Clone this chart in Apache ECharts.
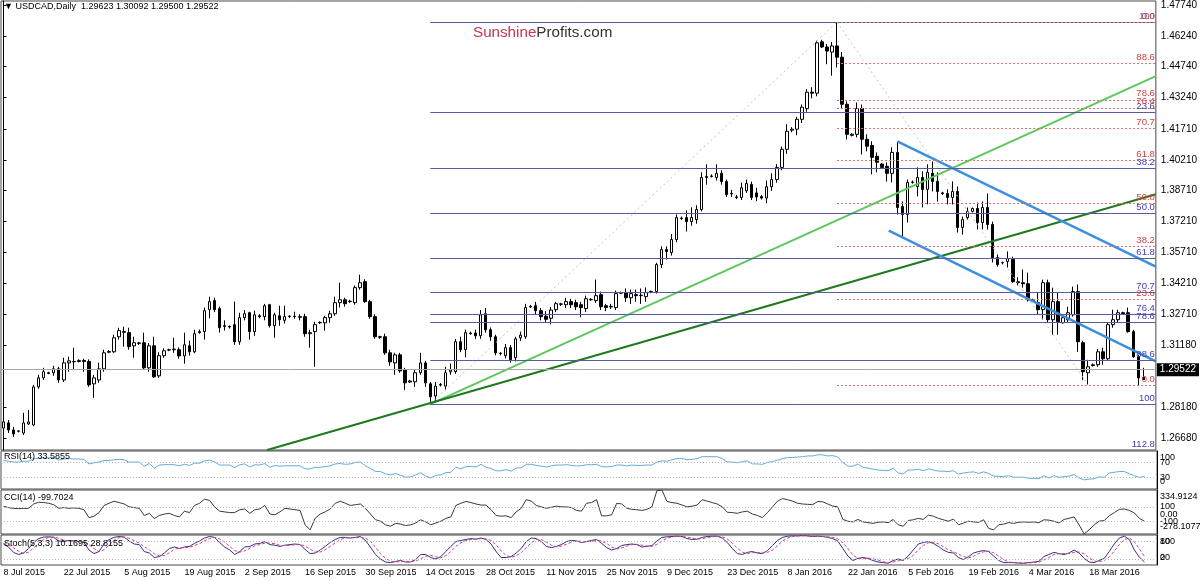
<!DOCTYPE html>
<html><head><meta charset="utf-8">
<script src="https://cdn.jsdelivr.net/npm/echarts@6/dist/echarts.min.js"></script>
<style>html,body{margin:0;padding:0;background:#fff}#c{width:1200px;height:581px}</style>
</head><body><div id="c"></div>
<script>
// ---------- DATA ----------
const firstDay = [2015, 6, 8], lastDay = [2016, 2, 31];
const closedDays = ['2015-12-25', '2016-01-01'];
const MONTHS = ['Jan','Feb','Mar','Apr','May','Jun','Jul','Aug','Sep','Oct','Nov','Dec'];
const titleText = '\u25BC USDCAD,Daily  1.29623 1.30092 1.29500 1.29522';
const priceTicks = [1.4774,1.4624,1.4474,1.4324,1.4171,1.4021,1.3871,1.3721,1.3571,1.3421,1.3271,1.3118,1.2818,1.2668];
const priceMin = 1.26092, priceMax = 1.47935;
// rows: [open, high, low, close]
const ohlc = [
[1.2716,1.2765,1.2692,1.2746],[1.2741,1.2755,1.2692,1.2707],[1.2707,1.2722,1.2673,1.2687],[1.2700,1.2705,1.2695,1.2702],[1.2692,1.2790,1.2682,1.2741],[1.2736,1.2804,1.2731,1.2746],[1.2731,1.2926,1.2725,1.2916],[1.2916,1.2975,1.2907,1.2960],[1.2960,1.3009,1.2950,1.2990],[1.2985,1.2990,1.2978,1.2982],[1.2985,1.3019,1.2970,1.3004],[1.3004,1.3014,1.2936,1.2950],
[1.2950,1.3058,1.2940,1.3033],[1.3033,1.3063,1.2990,1.3043],[1.3040,1.3107,1.3000,1.3038],[1.3040,1.3050,1.3035,1.3045],[1.3045,1.3053,1.2990,1.3040],[1.3040,1.3050,1.2916,1.2926],[1.2931,1.2975,1.2863,1.2960],[1.2950,1.3034,1.2936,1.3004],[1.3004,1.3097,1.2990,1.3082],[1.3085,1.3095,1.3080,1.3088],[1.3087,1.3170,1.3082,1.3155],[1.3160,1.3204,1.3146,1.3190],
[1.3185,1.3209,1.3112,1.3182],[1.3180,1.3204,1.3097,1.3112],[1.3116,1.3160,1.3058,1.3131],[1.3130,1.3135,1.3120,1.3128],[1.3131,1.3180,1.2999,1.3009],[1.3009,1.3130,1.2990,1.3116],[1.3116,1.3160,1.2960,1.2965],[1.2970,1.3085,1.2960,1.3068],[1.3068,1.3104,1.3058,1.3092],[1.3095,1.3102,1.3090,1.3097],[1.3097,1.3155,1.3082,1.3100],[1.3097,1.3109,1.3053,1.3067],
[1.3067,1.3180,1.3029,1.3121],[1.3116,1.3141,1.3068,1.3087],[1.3087,1.3194,1.3080,1.3175],[1.3180,1.3195,1.3175,1.3185],[1.3185,1.3302,1.3146,1.3287],[1.3292,1.3355,1.3250,1.3331],[1.3336,1.3350,1.3280,1.3292],[1.3297,1.3307,1.3180,1.3204],[1.3214,1.3240,1.3190,1.3210],[1.3210,1.3215,1.3200,1.3208],[1.3219,1.3331,1.3121,1.3136],[1.3136,1.3277,1.3121,1.3253],
[1.3253,1.3290,1.3240,1.3272],[1.3277,1.3282,1.3146,1.3185],[1.3185,1.3287,1.3165,1.3267],[1.3262,1.3270,1.3250,1.3258],[1.3258,1.3320,1.3240,1.3311],[1.3316,1.3320,1.3205,1.3214],[1.3214,1.3277,1.3155,1.3267],[1.3262,1.3311,1.3214,1.3243],[1.3240,1.3311,1.3224,1.3258],[1.3258,1.3265,1.3252,1.3260],[1.3260,1.3282,1.3248,1.3258],[1.3258,1.3270,1.3240,1.3255],
[1.3258,1.3272,1.3160,1.3175],[1.3175,1.3194,1.3107,1.3180],[1.3185,1.3233,1.3014,1.3219],[1.3228,1.3235,1.3222,1.3230],[1.3228,1.3262,1.3190,1.3253],[1.3253,1.3287,1.3228,1.3272],[1.3272,1.3355,1.3262,1.3326],[1.3326,1.3423,1.3302,1.3340],[1.3340,1.3350,1.3306,1.3321],[1.3331,1.3340,1.3325,1.3333],[1.3326,1.3409,1.3316,1.3399],[1.3399,1.3462,1.3389,1.3423],
[1.3428,1.3440,1.3326,1.3331],[1.3331,1.3340,1.3248,1.3258],[1.3258,1.3270,1.3150,1.3160],[1.3160,1.3165,1.3150,1.3158],[1.3160,1.3175,1.3072,1.3082],[1.3082,1.3097,1.3019,1.3038],[1.3033,1.3082,1.2975,1.3072],[1.3072,1.3082,1.2985,1.2994],[1.2999,1.3009,1.2902,1.2936],[1.2940,1.2950,1.2935,1.2945],[1.2941,1.2999,1.2916,1.2985],[1.2985,1.3082,1.2975,1.3033],
[1.3033,1.3043,1.2916,1.2936],[1.2931,1.2940,1.2832,1.2868],[1.2872,1.2940,1.2840,1.2920],[1.2925,1.2935,1.2918,1.2928],[1.2920,1.3014,1.2900,1.2985],[1.2990,1.3030,1.2975,1.2999],[1.2990,1.3150,1.2980,1.3136],[1.3136,1.3160,1.3085,1.3097],[1.3097,1.3195,1.3060,1.3180],[1.3175,1.3185,1.3170,1.3178],[1.3178,1.3195,1.3150,1.3165],[1.3165,1.3290,1.3150,1.3267],
[1.3272,1.3300,1.3180,1.3194],[1.3194,1.3205,1.3140,1.3160],[1.3160,1.3170,1.3070,1.3082],[1.3080,1.3085,1.3070,1.3078],[1.3068,1.3125,1.3055,1.3107],[1.3107,1.3120,1.3035,1.3048],[1.3058,1.3160,1.3040,1.3150],[1.3155,1.3185,1.3140,1.3168],[1.3160,1.3320,1.3150,1.3302],[1.3305,1.3315,1.3300,1.3308],[1.3311,1.3330,1.3270,1.3287],[1.3287,1.3300,1.3240,1.3258],
[1.3260,1.3285,1.3230,1.3245],[1.3250,1.3305,1.3220,1.3290],[1.3292,1.3330,1.3280,1.3321],[1.3318,1.3325,1.3310,1.3320],[1.3316,1.3350,1.3300,1.3331],[1.3331,1.3345,1.3300,1.3316],[1.3326,1.3340,1.3290,1.3306],[1.3316,1.3330,1.3255,1.3302],[1.3297,1.3360,1.3280,1.3345],[1.3340,1.3348,1.3335,1.3342],[1.3336,1.3438,1.3325,1.3360],[1.3365,1.3380,1.3290,1.3306],
[1.3311,1.3320,1.3285,1.3302],[1.3305,1.3320,1.3295,1.3308],[1.3302,1.3385,1.3290,1.3370],[1.3372,1.3380,1.3368,1.3375],[1.3375,1.3395,1.3330,1.3350],[1.3350,1.3390,1.3320,1.3370],[1.3365,1.3390,1.3330,1.3360],[1.3360,1.3395,1.3320,1.3362],[1.3355,1.3400,1.3330,1.3375],[1.3378,1.3385,1.3372,1.3380],[1.3380,1.3520,1.3370,1.3511],[1.3511,1.3600,1.3495,1.3584],
[1.3584,1.3600,1.3536,1.3575],[1.3570,1.3660,1.3555,1.3633],[1.3633,1.3755,1.3620,1.3740],[1.3735,1.3745,1.3728,1.3738],[1.3740,1.3775,1.3672,1.3720],[1.3720,1.3790,1.3700,1.3740],[1.3730,1.3800,1.3710,1.3779],[1.3779,1.3960,1.3770,1.3935],[1.3935,1.3999,1.3900,1.3940],[1.3940,1.3950,1.3935,1.3942],[1.3935,1.3999,1.3920,1.3955],[1.3955,1.3970,1.3900,1.3915],
[1.3915,1.3925,1.3840,1.3852],[1.3855,1.3875,1.3840,1.3858],[1.3840,1.3850,1.3830,1.3838],[1.3838,1.3910,1.3825,1.3885],[1.3870,1.3925,1.3860,1.3905],[1.3901,1.3915,1.3825,1.3838],[1.3860,1.3885,1.3820,1.3840],[1.3842,1.3850,1.3828,1.3835],[1.3835,1.3920,1.3810,1.3890],[1.3890,1.3955,1.3870,1.3925],[1.3925,1.4000,1.3910,1.3984],[1.3984,1.4085,1.3970,1.4072],
[1.4072,1.4194,1.4050,1.4160],[1.4165,1.4180,1.4155,1.4170],[1.4170,1.4230,1.4140,1.4218],[1.4218,1.4290,1.4200,1.4277],[1.4270,1.4365,1.4255,1.4350],[1.4350,1.4374,1.4320,1.4345],[1.4345,1.4600,1.4330,1.4590],[1.4595,1.4605,1.4565,1.4570],[1.4570,1.4584,1.4486,1.4550],[1.4545,1.4594,1.4430,1.4575],[1.4575,1.4691,1.4470,1.4520],[1.4520,1.4545,1.4270,1.4291],
[1.4291,1.4305,1.4120,1.4145],[1.4140,1.4150,1.4135,1.4145],[1.4145,1.4300,1.4130,1.4270],[1.4270,1.4290,1.4047,1.4121],[1.4121,1.4145,1.4062,1.4087],[1.4091,1.4111,1.3950,1.4033],[1.4038,1.4057,1.3960,1.4009],[1.4000,1.4005,1.3980,1.3984],[1.3989,1.4008,1.3915,1.3955],[1.3955,1.4082,1.3911,1.4057],[1.4057,1.4111,1.3755,1.3789],[1.3794,1.3818,1.3648,1.3755],
[1.3755,1.3925,1.3716,1.3911],[1.3911,1.3920,1.3905,1.3913],[1.3891,1.3984,1.3843,1.3935],[1.3935,1.3965,1.3789,1.3877],[1.3877,1.3999,1.3804,1.3960],[1.3955,1.4013,1.3867,1.3916],[1.3916,1.3960,1.3818,1.3867],[1.3860,1.3865,1.3850,1.3857],[1.3857,1.3877,1.3804,1.3838],[1.3838,1.3916,1.3804,1.3867],[1.3867,1.3891,1.3667,1.3692],[1.3692,1.3745,1.3657,1.3730],
[1.3740,1.3789,1.3730,1.3770],[1.3770,1.3789,1.3765,1.3784],[1.3784,1.3813,1.3682,1.3716],[1.3716,1.3818,1.3682,1.3789],[1.3789,1.3857,1.3682,1.3706],[1.3706,1.3720,1.3521,1.3545],[1.3545,1.3560,1.3501,1.3511],[1.3520,1.3528,1.3512,1.3521],[1.3526,1.3575,1.3497,1.3540],[1.3536,1.3550,1.3423,1.3428],[1.3428,1.3450,1.3410,1.3423],[1.3423,1.3487,1.3399,1.3418],
[1.3418,1.3472,1.3331,1.3340],[1.3336,1.3345,1.3330,1.3340],[1.3326,1.3375,1.3267,1.3292],[1.3292,1.3438,1.3243,1.3423],[1.3423,1.3438,1.3228,1.3243],[1.3243,1.3399,1.3170,1.3331],[1.3331,1.3375,1.3170,1.3233],[1.3228,1.3258,1.3224,1.3253],[1.3243,1.3306,1.3228,1.3277],[1.3267,1.3404,1.3258,1.3380],[1.3380,1.3414,1.3087,1.3136],[1.3131,1.3141,1.2950,1.2990],
[1.2985,1.3048,1.2926,1.3014],[1.3020,1.3030,1.3015,1.3024],[1.3024,1.3101,1.3014,1.3087],[1.3087,1.3107,1.3024,1.3053],[1.3053,1.3228,1.3043,1.3219],[1.3219,1.3292,1.3204,1.3243],[1.3243,1.3292,1.3228,1.3277],[1.3277,1.3282,1.3268,1.3272],[1.3277,1.3302,1.3180,1.3185],[1.3185,1.3194,1.3058,1.3063],[1.3063,1.3072,1.2920,1.2960],[1.29623,1.30092,1.29500,1.29522]
];
const rsi = [
75,73,71,71,73,73,80,81,82,82,83,76, 79,80,79,79,78,66,69,71,75,75,77,78,
77,70,71,71,60,67,55,63,64,64,64,61, 65,62,68,68,74,76,71,63,63,63,56,64,
66,58,64,63,67,57,62,60,61,61,61,61, 53,53,57,57,59,61,66,67,65,66,70,71,
61,54,46,46,40,37,41,36,31,32,37,43, 34,29,36,37,43,44,57,53,59,59,58,65,
57,54,48,48,51,47,55,56,65,65,62,60, 58,61,63,63,64,62,61,61,64,64,65,59,
58,59,63,63,61,63,62,62,63,63,71,74, 73,77,80,80,77,78,80,85,85,85,85,80,
71,71,69,72,74,66,66,65,70,72,76,80, 83,83,84,85,87,87,90,90,87,88,84,70,
60,60,66,57,55,52,50,49,48,55,42,40, 50,50,52,48,53,50,47,47,46,48,39,42,
44,45,41,45,41,34,33,33,35,31,31,31, 28,28,27,35,29,35,31,32,34,38,29,24,
26,27,32,31,42,44,46,46,40,35,30,33.5855];
const cci = [
107,90,78,75,78,80,140,164,160,150,130,80, 90,80,85,80,60,-50,-30,20,120,150,178,160,
140,100,90,80,-20,10,-64,-20,0,10,-20,-40, 40,20,120,150,207,190,100,40,30,20,21,60,
70,10,60,70,120,0,-10,30,80,70,60,50, -150,-221,-60,0,30,70,150,178,150,120,130,140,
80,0,-78,-100,-150,-170,-130,-140,-160,-150,-125,-80, -110,-150,-125,-100,-60,-40,120,150,175,160,140,125,
125,60,-20,-30,-25,-50,30,80,200,180,120,100, 80,95,110,100,100,90,50,40,150,160,200,-25,
-25,-10,150,140,80,65,60,50,65,100,325,334.9, 175,160,150,125,100,110,125,200,180,160,140,100,
25,20,10,30,40,0,-20,-50,20,100,180,215, 200,180,150,140,135,130,175,170,140,110,100,-75,
-100,-110,-75,-110,-120,-130,-115,-110,-120,-75,-150,-170, -90,-80,-60,-75,-15,-30,-60,-80,-100,-70,-150,-125,
-100,-110,-115,-80,-200,-220,-150,-140,-120,-130,-115,-110, -115,-110,-120,-80,-85,-100,-125,-75,-60,-40,-150,-278.1,
-220,-150,-100,-90,-25,20,65,70,50,15,-60,-99.7024];
const stochK = [
70,60,42,35,40,55,75,88,93,94,92,80, 78,82,80,78,76,50,38,45,70,85,92,95,
93,80,70,68,45,40,25,28,40,55,60,55, 60,62,72,80,90,95,92,75,60,50,35,45,
60,62,70,72,78,68,66,62,66,68,70,68, 52,38,40,50,62,75,85,92,92,90,92,95,
82,60,35,20,10,8,12,15,10,10,18,35, 35,25,20,28,45,62,78,82,85,88,86,90,
85,70,45,25,25,28,40,55,78,90,88,78, 62,58,62,68,78,82,80,75,78,82,85,72,
58,50,55,65,68,70,68,60,62,65,80,92, 94,95,96,95,88,85,86,92,95,96,96,90,
75,55,38,35,42,45,40,38,48,65,82,92, 96,97,97,98,97,95,96,95,92,88,80,55,
30,15,22,25,22,15,10,8,6,15,20,15, 30,50,70,75,78,72,62,50,42,40,25,18,
28,40,45,48,45,30,15,8,8,8,6,6, 8,10,12,28,35,42,38,35,40,50,40,22,
10,8,15,22,45,70,90,96,85,50,26,10.1695];
const stochD = [
72,68,57,46,39,43,57,73,85,92,93,89, 83,80,80,80,78,68,55,44,51,67,82,91,
93,89,81,73,61,51,37,31,31,41,52,57, 58,59,65,71,81,88,92,87,76,62,48,43,
47,56,64,68,73,73,71,65,65,65,68,69, 63,53,43,43,51,62,74,84,90,91,91,92,
90,79,59,38,22,13,10,12,12,12,13,21, 29,32,27,24,31,45,62,74,82,85,86,88,
87,82,67,47,32,26,31,41,58,74,85,85, 76,66,61,63,69,76,80,79,78,78,82,80,
72,60,54,57,63,68,69,66,63,62,69,79, 89,94,95,95,93,89,86,88,91,94,96,94,
87,73,56,43,38,41,42,41,42,50,65,80, 90,95,97,97,97,97,96,95,94,92,87,74,
55,33,22,21,23,21,16,11,8,10,14,17, 22,32,50,65,74,75,71,61,51,44,36,28,
24,29,38,44,46,41,30,18,10,8,7,7, 7,8,10,17,25,35,38,38,38,42,43,37,
24,13,11,15,27,46,68,85,90,77,54,28.8155];
// Fibonacci levels: [label, price]
const fibBlueStart = 85;
const fibBlue = [['0.0',1.4691],['23.6',1.4252],['38.2',1.3981],['50.0',1.3762],['61.8',1.3542],['70.7',1.3377],['76.4',1.3271],['78.6',1.3230],['88.6',1.3044],['100',1.2832]];
const fibBlueBelow = ['112.8',1.2594]; // level under the visible range: only its label shows
const fibRedStart = 166;
const fibRed = [['100',1.4691],['88.6',1.4490],['78.6',1.4313],['76.4',1.4274],['70.7',1.4174],['61.8',1.4017],['50.0',1.3809],['38.2',1.3600],['23.6',1.3343],['0.0',1.2926]];
// trend lines: [[barIndex, price], [barIndex, price]]
const lightGreenLine = [[85,1.2832],[229.5,1.4428]];
const darkGreenLine = [[52.5,1.26092],[229.5,1.3853]];
const channelUpper = [[178,1.4111],[229.5,1.3501]];
const channelLower = [[176.3,1.3677],[229.5,1.3040]];
const fibTrendBlue = [[85,1.2832],[166,1.4691]];
const fibTrendRed = [[166,1.4691],[216,1.2926]];
const rsiLevels = [70,30], cciLevels = [100,-100], stochLevels = [80,20];
const rsiTicks = [100,70,30,0], cciTicks = [334.9124,100,0,-100,-278.1077], stochTicks = [100,80,20,0];

// ---------- BUILD ----------
const dates = [];
for (let t = Date.UTC(firstDay[0],firstDay[1],firstDay[2]); t <= Date.UTC(lastDay[0],lastDay[1],lastDay[2]); t += 86400000) {
  const d = new Date(t), s = d.toISOString().slice(0,10);
  if (d.getUTCDay() !== 6 && closedDays.indexOf(s) < 0) dates.push(s);
}
const cats = dates.concat(['pad1','pad2']);
const N = cats.length;
const FONT = '"Liberation Sans", Arial, sans-serif';
const fmtDate = v => { const p = v.split('-'); return (+p[2]) + ' ' + MONTHS[+p[1]-1] + ' ' + p[0]; };

const gridsPx = [
  {top:1, height:449}, {top:451, height:38}, {top:490, height:44}, {top:535, height:30}
];
const grid = gridsPx.map(g => ({left:1, width:1156, top:g.top, height:g.height, show:true, borderColor:'#4a4a4a', borderWidth:1, backgroundColor:'transparent'}));
const xAxis = [0,1,2,3].map(k => ({
  type:'category', gridIndex:k, data:cats, boundaryGap:true,
  axisLine:{show:false}, axisTick:{show:false}, splitLine:{show:false},
  axisLabel: k===3 ? {show:true, interval:(i)=> i%12===0 && i<dates.length, formatter:fmtDate, align:'left', fontSize:9, fontFamily:FONT, color:'#000', margin:3} : {show:false}
}));
xAxis.push({type:'value', gridIndex:0, min:-0.5, max:N-0.5, show:false});
const yCommon = {position:'right', splitLine:{show:false}, axisLine:{show:true, lineStyle:{color:'#000', width:1}}};
const yAxis = [
  Object.assign({type:'value', gridIndex:0, min:priceMin, max:priceMax,
    axisTick:{show:true, length:3, customValues:priceTicks, lineStyle:{color:'#000'}},
    axisLabel:{show:true, customValues:priceTicks, formatter:v=>v.toFixed(5), fontSize:10, fontFamily:FONT, color:'#000', margin:5}}, yCommon),
  Object.assign({type:'value', gridIndex:1, min:0, max:100, axisTick:{show:false}, axisLabel:{show:false}}, yCommon),
  Object.assign({type:'value', gridIndex:2, min:-278.1077, max:334.9124, axisTick:{show:false}, axisLabel:{show:false}}, yCommon),
  Object.assign({type:'value', gridIndex:3, min:0, max:100, axisTick:{show:false}, axisLabel:{show:false}}, yCommon)
];
const lastClose = ohlc[ohlc.length-1][3];

function fibSeries(levels, start, lineColor, lineType, labelColor) {
  return {type:'line', xAxisIndex:4, yAxisIndex:0, data:[], silent:true, z:1,
    markLine:{silent:true, symbol:'none', animation:false,
      data: levels.map(l => [
        {coord:[start, l[1]], lineStyle:{color:lineColor, type:lineType, width:1},
         label:{show:true, formatter:l[0], position:'insideEndTop', color:labelColor, fontSize:9.5, fontFamily:FONT, distance:[1,1]}},
        {coord:[N-0.5, l[1]]}
      ])}};
}
function trend(data, color, width, type) {
  return {type:'line', xAxisIndex:4, yAxisIndex:0, data:data, symbol:'none', silent:true, z:4,
    lineStyle:{color:color, width:width, type:type||'solid'}, clip:true};
}
function levelLine(vals) {
  return {silent:true, symbol:'none', animation:false, data:vals.map(v=>({yAxis:v})),
    lineStyle:{color:'#b8b8b8', type:[1,2], width:1}, label:{show:false}};
}

const series = [
  fibSeries(fibBlue, fibBlueStart, '#5a5a9e', 'solid', '#4040b8'),
  fibSeries(fibRed, fibRedStart, '#dd7466', [2,2], '#d04040'),
  trend(fibTrendBlue, '#c4c4c4', 1, [2,3]),
  trend(fibTrendRed, '#c4c4c4', 1, [2,3]),
  {type:'candlestick', xAxisIndex:0, yAxisIndex:0, barWidth:3, z:3,
   data: ohlc.map(r => [r[0], r[3], r[2], r[1]]),
   itemStyle:{color:'#fff', color0:'#000', borderColor:'#000', borderColor0:'#000', borderWidth:1},
   emphasis:{disabled:true},
   markLine:{silent:true, symbol:'none', animation:false, data:[{yAxis:lastClose}],
     lineStyle:{color:'#a6a6a6', type:'solid', width:1},
     label:{show:true, position:'end', formatter:lastClose.toFixed(5), backgroundColor:'#000', color:'#fff', fontSize:10, fontFamily:FONT, padding:[2,3,1,3], distance:1}}},
  trend(lightGreenLine, '#5cc85a', 2),
  trend(darkGreenLine, '#1f7a1f', 2),
  trend(channelUpper, '#3d8fe0', 2.5),
  trend(channelLower, '#3d8fe0', 2.5),
  {type:'line', xAxisIndex:1, yAxisIndex:1, data:rsi, symbol:'none', silent:true, lineStyle:{color:'#64acd8', width:1}, markLine:levelLine(rsiLevels)},
  {type:'line', xAxisIndex:2, yAxisIndex:2, data:cci, symbol:'none', silent:true, lineStyle:{color:'#3a3a3a', width:1}, markLine:levelLine(cciLevels)},
  {type:'line', xAxisIndex:3, yAxisIndex:3, data:stochK, symbol:'none', silent:true, lineStyle:{color:'#32308c', width:1}, markLine:levelLine(stochLevels)},
  {type:'line', xAxisIndex:3, yAxisIndex:3, data:stochD, symbol:'none', silent:true, lineStyle:{color:'#d84070', width:1, type:[3,2]}}
];

const chart = echarts.init(document.getElementById('c'), null, {renderer:'canvas'});
chart.setOption({animation:false, backgroundColor:'#fff', grid:grid, xAxis:xAxis, yAxis:yAxis, series:series});

// ---------- TEXT OVERLAYS ----------
const g = [];
function txt(x, y, s, color, size, align) {
  g.push({type:'text', x:x, y:y, silent:true, z:100,
    style:{text:s, fill:color, font:size+'px '+FONT, align:align||'left', verticalAlign:'middle'}});
}
txt(4, 7, titleText, '#000', 9);
g.push({type:'text', x:473, y:33, silent:true, z:100,
  style:{text:'{a|Sunshine}{b|Profits.com}', verticalAlign:'middle', font:'15.2px '+FONT,
    rich:{a:{fill:'#c8344e', font:'15.2px '+FONT}, b:{fill:'#333', font:'15.2px '+FONT}}}});
txt(4, 457, 'RSI(14) 33.5855', '#000', 9);
txt(4, 498, 'CCI(14) -99.7024', '#000', 9);
txt(4, 544, 'Stoch(5,3,3) 10.1695 28.8155', '#000', 9);
// label of the fib level that lies below the visible price range
(function(){
  const yLine = chart.convertToPixel({yAxisIndex:0}, fibBlueBelow[1]);
  const x = chart.convertToPixel({xAxisIndex:4}, N-0.5);
  txt(x - 1, Math.min(yLine, 451) - 6.5, fibBlueBelow[0], '#4040b8', 9.5, 'right');
})();
function axisTexts(yIdx, vals, fmt, top, bottom) {
  vals.forEach(v => {
    let y = chart.convertToPixel({yAxisIndex:yIdx}, v);
    y = Math.max(top + 6.5, Math.min(bottom - 7, y));
    txt(1160, y, fmt(v), '#000', 9);
  });
}
axisTexts(1, rsiTicks, v=>String(v), 451, 489);
axisTexts(2, cciTicks, v=> v===0 ? '0.00' : (Math.abs(v)===100 ? String(v) : v.toFixed(4)), 490, 534);
axisTexts(3, stochTicks, v=>String(v), 535, 565);
chart.setOption({graphic:g});
</script></body></html>
